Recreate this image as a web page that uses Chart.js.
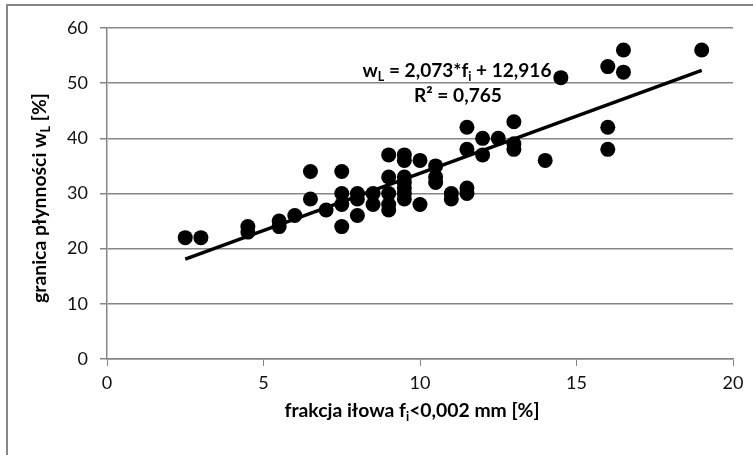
<!DOCTYPE html>
<html>
<head>
<meta charset="utf-8">
<script src="https://cdn.jsdelivr.net/npm/chart.js@4/dist/chart.umd.min.js"></script>
<style>
html,body{margin:0;padding:0;background:#fff;}
#wrap{position:relative;width:753px;height:455px;}
</style>
</head>
<body>
<div id="wrap"><canvas id="c" width="753" height="455"></canvas></div>
<script>
// ---- data ----
const pointsX = [2.5,3, 4.5,4.5, 5.5,5.5, 6, 6.5,6.5, 7, 7.5,7.5,7.5,7.5, 8,8,8, 8.5,8.5, 9,9,9,9,9, 9.5,9.5,9.5,9.5,9.5,9.5,9.5, 10,10, 10.5,10.5,10.5, 11,11, 11.5,11.5,11.5,11.5, 12,12, 12.5, 13,13,13, 14, 14.5, 16,16,16, 16.5,16.5, 19];
const pointsY = [22,22, 24,23, 25,24, 26, 34,29, 27, 34,30,28,24, 30,29,26, 30,28, 37,33,30,28,27, 37,36,33,32,31,30,29, 36,28, 35,33,32, 30,29, 42,38,31,30, 40,37, 40, 43,39,38, 36, 51, 53,42,38, 56,52, 56];
const trendX = [2.5, 19];
const trendY = [18.1, 52.3];
const xTickValues = [0, 5, 10, 15, 20];
const yTickValues = [0, 10, 20, 30, 40, 50, 60];
const xTitleParts = [['frakcja iłowa f'],['i','sub'],['<0,002 mm [%]']];
const yTitleParts = [['granica płynności w'],['L','sub'],[' [%]']];
const eqLine1 = [['w'],['L','sub'],[' = 2,073*f'],['i','sub'],[' + 12,916']];
const eqLine2 = [['R² = 0,765']];

const FONT = 'Lato, "Open Sans", sans-serif';
const GRID = '#868686';

function richWidth(ctx, parts, size) {
  let w = 0;
  parts.forEach(p => {
    ctx.font = 'bold ' + (p[1] ? size*0.65 : size) + 'px ' + FONT;
    w += ctx.measureText(p[0]).width;
  });
  return w;
}
// draws mixed text (with subscripts), scaled so that it spans the given width
function drawRich(ctx, parts, x, y, targetW) {
  let size = 17;
  size = size * targetW / richWidth(ctx, parts, size);
  const w = richWidth(ctx, parts, size);
  let cx = x - w/2;
  ctx.textBaseline = 'alphabetic';
  ctx.textAlign = 'left';
  parts.forEach(p => {
    ctx.font = 'bold ' + (p[1] ? size*0.65 : size) + 'px ' + FONT;
    ctx.fillText(p[0], cx, p[1] ? y + size*0.22 : y);
    cx += ctx.measureText(p[0]).width;
  });
}

const decor = {
  id: 'decor',
  beforeDraw(chart) {
    const ctx = chart.ctx;
    ctx.save();
    ctx.fillStyle = '#fff';
    ctx.fillRect(0, 0, chart.width, chart.height);
    ctx.strokeStyle = GRID;
    ctx.lineWidth = 2;
    ctx.strokeRect(7, 5, 800, 500);
    ctx.restore();
  },
  afterDraw(chart) {
    const ctx = chart.ctx;
    ctx.save();
    ctx.fillStyle = '#000';
    drawRich(ctx, xTitleParts, 412, 417, 255);
    ctx.translate(46, 198);
    ctx.rotate(-Math.PI/2);
    drawRich(ctx, yTitleParts, 0, 0, 210);
    ctx.restore();
    ctx.save();
    ctx.fillStyle = '#000';
    drawRich(ctx, eqLine1, 457, 77, 189);
    drawRich(ctx, eqLine2, 458, 102, 88);
    ctx.restore();
  }
};

new Chart(document.getElementById('c'), {
  type: 'scatter',
  data: {
    datasets: [
      {
        type: 'line',
        data: trendX.map((x, i) => ({x, y: trendY[i]})),
        borderColor: '#000',
        borderWidth: 3.5,
        pointRadius: 0,
        fill: false,
        order: 1
      },
      {
        data: pointsX.map((x, i) => ({x, y: pointsY[i]})),
        backgroundColor: '#000',
        borderColor: '#000',
        borderWidth: 0,
        pointRadius: 7.5,
        pointHoverRadius: 7.5,
        order: 2
      }
    ]
  },
  options: {
    responsive: false,
    animation: false,
    events: [],
    layout: { padding: { top: 28, right: 20, left: 0, bottom: 0 } },
    plugins: { legend: { display: false }, tooltip: { enabled: false } },
    scales: {
      x: {
        type: 'linear', min: 0, max: 20,
        afterBuildTicks(s) { s.ticks = xTickValues.map(v => ({value: v})); },
        afterFit(s) { s.height = 96; },
        grid: { display: true, drawOnChartArea: false, drawTicks: true, tickLength: 7, color: GRID, lineWidth: 1 },
        border: { color: GRID, width: 1.5 },
        ticks: { color: '#111', font: { family: FONT, size: 18 }, padding: 6, maxRotation: 0 }
      },
      y: {
        type: 'linear', min: 0, max: 60,
        afterBuildTicks(s) { s.ticks = yTickValues.map(v => ({value: v})); },
        afterFit(s) { s.width = 107; },
        grid: { color: GRID, lineWidth: 1.5, tickLength: 7 },
        border: { color: GRID, width: 1.5 },
        ticks: { color: '#111', font: { family: FONT, size: 18 }, padding: 12 }
      }
    }
  },
  plugins: [decor]
});
</script>
</body>
</html>
